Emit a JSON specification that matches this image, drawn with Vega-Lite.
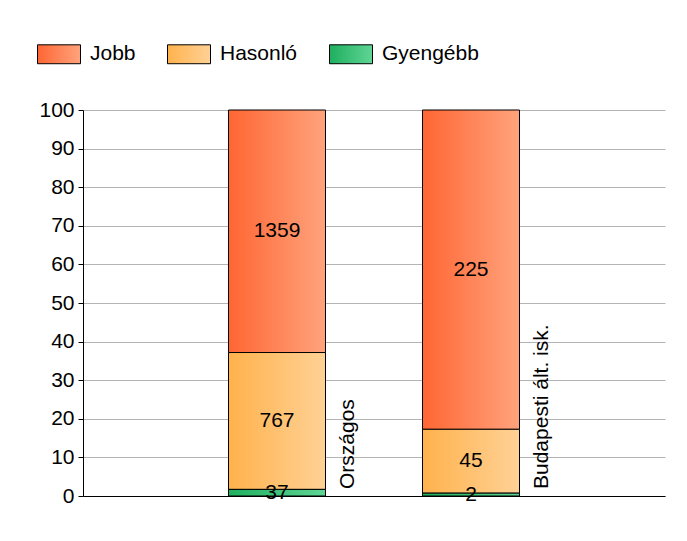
{
  "$schema": "https://vega.github.io/schema/vega-lite/v6.json",
  "autosize": "none",
  "width": 582,
  "height": 386,
  "padding": {"left": 83, "top": 110, "right": 22, "bottom": 45},
  "background": "white",
  "config": {
    "font": "Liberation Sans",
    "view": {"stroke": null}
  },
  "data": {
    "values": [
      {"cat": "Országos", "group": "Gyengébb", "n": 37, "order": 1},
      {"cat": "Országos", "group": "Hasonló", "n": 767, "order": 2},
      {"cat": "Országos", "group": "Jobb", "n": 1359, "order": 3},
      {"cat": "Budapesti ált. isk.", "group": "Gyengébb", "n": 2, "order": 1},
      {"cat": "Budapesti ált. isk.", "group": "Hasonló", "n": 45, "order": 2},
      {"cat": "Budapesti ált. isk.", "group": "Jobb", "n": 225, "order": 3}
    ]
  },
  "transform": [
    {"stack": "n", "groupby": ["cat"], "sort": [{"field": "order", "order": "ascending"}], "offset": "normalize", "as": ["s0", "s1"]},
    {"calculate": "datum.s0 * 100", "as": "y0"},
    {"calculate": "datum.s1 * 100", "as": "y1"},
    {"calculate": "(datum.y0 + datum.y1) / 2", "as": "mid"}
  ],
  "encoding": {
    "x": {
      "field": "cat",
      "type": "nominal",
      "sort": ["Országos", "Budapesti ált. isk."],
      "scale": {"paddingInner": 0.5, "paddingOuter": 0.75},
      "axis": {"title": null, "labels": false, "ticks": false, "domainColor": "black", "domainWidth": 1, "grid": false}
    },
    "y": {
      "field": "y0",
      "type": "quantitative",
      "scale": {"domain": [0, 100], "nice": false},
      "axis": {
        "title": null,
        "values": [0, 10, 20, 30, 40, 50, 60, 70, 80, 90, 100],
        "grid": true,
        "gridColor": "#b4b4b4",
        "gridWidth": 1,
        "domainColor": "black",
        "tickColor": "black",
        "tickSize": 5,
        "labelFontSize": 21,
        "labelColor": "black",
        "labelPadding": 4
      }
    },
    "y2": {"field": "y1"}
  },
  "layer": [
    {
      "mark": {"type": "bar", "fillOpacity": 0, "strokeOpacity": 0},
      "encoding": {
        "fill": {
          "field": "cat",
          "type": "nominal",
          "legend": null,
          "scale": {"range": ["white", "white"]}
        },
        "stroke": {
          "field": "group",
          "type": "nominal",
          "scale": {"domain": ["Jobb", "Hasonló", "Gyengébb"], "range": ["black", "black", "black"]},
          "legend": {
            "title": null,
            "orient": "none",
            "direction": "horizontal",
            "legendX": -46,
            "legendY": -78,
            "padding": 0,
            "symbolType": "M-1,-0.44H1V0.44H-1Z",
            "symbolSize": 1849,
            "symbolStrokeWidth": 1,
            "symbolOpacity": 1,
            "symbolFillColor": "white",
            "labelFontSize": 21,
            "labelColor": "black",
            "labelOffset": 9,
            "columnPadding": 29,
            "encode": {
              "symbols": {
                "update": {
                  "fill": {"signal": "datum.value == 'Jobb' ? {gradient: 'linear', x1: 0, y1: 0, x2: 1, y2: 0, stops: [{offset: 0, color: '#FF6633'}, {offset: 1, color: '#FFA37D'}]} : datum.value == 'Hasonló' ? {gradient: 'linear', x1: 0, y1: 0, x2: 1, y2: 0, stops: [{offset: 0, color: '#FFB24C'}, {offset: 1, color: '#FFD196'}]} : {gradient: 'linear', x1: 0, y1: 0, x2: 1, y2: 0, stops: [{offset: 0, color: '#1FAF5F'}, {offset: 1, color: '#5FD595'}]}"},
                  "fillOpacity": {"value": 1},
                  "strokeOpacity": {"value": 1},
                  "opacity": {"value": 1},
                  "stroke": {"value": "black"}
                }
              }
            }
          }
        }
      }
    },
    {
      "transform": [{"filter": "datum.group == 'Jobb'"}],
      "mark": {"type": "bar", "stroke": "black", "strokeWidth": 1, "fillOpacity": 1, "fill": {"gradient": "linear", "x1": 0, "y1": 0, "x2": 1, "y2": 0, "stops": [{"offset": 0, "color": "#FF6633"}, {"offset": 1, "color": "#FFA37D"}]}}
    },
    {
      "transform": [{"filter": "datum.group == 'Hasonló'"}],
      "mark": {"type": "bar", "stroke": "black", "strokeWidth": 1, "fillOpacity": 1, "fill": {"gradient": "linear", "x1": 0, "y1": 0, "x2": 1, "y2": 0, "stops": [{"offset": 0, "color": "#FFB24C"}, {"offset": 1, "color": "#FFD196"}]}}
    },
    {
      "transform": [{"filter": "datum.group == 'Gyengébb'"}],
      "mark": {"type": "bar", "stroke": "black", "strokeWidth": 1, "fillOpacity": 1, "fill": {"gradient": "linear", "x1": 0, "y1": 0, "x2": 1, "y2": 0, "stops": [{"offset": 0, "color": "#1FAF5F"}, {"offset": 1, "color": "#5FD595"}]}}
    },
    {
      "mark": {"type": "text", "fontSize": 21, "color": "black", "baseline": "middle"},
      "encoding": {
        "y": {"field": "mid", "type": "quantitative"},
        "y2": null,
        "text": {"field": "n", "type": "quantitative"}
      }
    },
    {
      "transform": [{"filter": "datum.order == 1"}],
      "mark": {"type": "text", "fontSize": 21, "color": "black", "angle": 270, "align": "left", "baseline": "middle", "xOffset": 71, "yOffset": -7},
      "encoding": {
        "y": {"datum": 0, "type": "quantitative"},
        "y2": null,
        "text": {"field": "cat", "type": "nominal"}
      }
    }
  ]
}
